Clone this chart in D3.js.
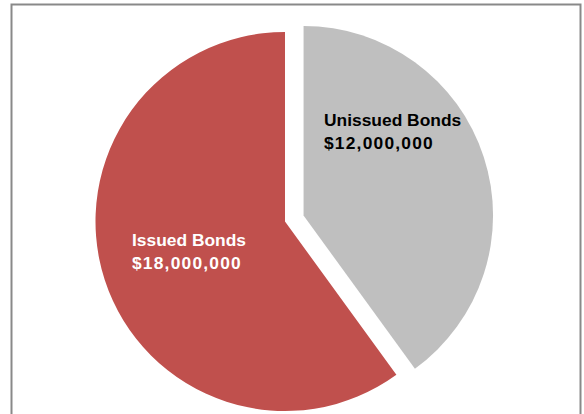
<!DOCTYPE html>
<html>
<head>
<meta charset="utf-8">
<script src="https://cdn.jsdelivr.net/npm/d3@7"></script>
<style>
  html, body { margin: 0; padding: 0; background: #ffffff; }
  svg { display: block; }
</style>
</head>
<body>
<svg id="chart" width="584" height="414"></svg>
<script>
const categories = ["Unissued Bonds", "Issued Bonds"];
const values = [12000000, 18000000];
const valueLabels = ["$12,000,000", "$18,000,000"];
const colors = ["#BFBFBF", "#C0504D"];

const svg = d3.select("#chart");
const W = 584, H = 414;

svg.append("rect").attr("width", W).attr("height", H).attr("fill", "#ffffff");
// chart area border (bottom edge falls outside the picture)
svg.append("rect")
  .attr("x", 11.5).attr("y", 4.5)
  .attr("width", 569).attr("height", 430)
  .attr("fill", "#ffffff")
  .attr("stroke", "#898989").attr("stroke-width", 2);

const cx = 285, cy = 221.5, R = 189.5;
const explode = [19.5, 0];

const pie = d3.pie().sort(null).value(d => d)(values);
const arc = d3.arc().innerRadius(0).outerRadius(R);

const g = svg.append("g").attr("transform", `translate(${cx},${cy})`);

const slices = g.selectAll("g.slice").data(pie).join("g")
  .attr("class", "slice")
  .attr("transform", (d, i) => {
    const mid = (d.startAngle + d.endAngle) / 2;
    const dx = explode[i] * Math.sin(mid), dy = -explode[i] * Math.cos(mid);
    return `translate(${dx},${dy})`;
  });

slices.append("path")
  .attr("d", arc)
  .attr("fill", (d, i) => colors[i]);

// labels (placed as in the reference, relative to pie centre)
const labelPos = [
  { x: 39, y: -96, fill: "#000000" },
  { x: -153, y: 24, fill: "#ffffff" }
];

const font = "'Liberation Sans', Arial, sans-serif";
categories.forEach((c, i) => {
  const t = g.append("text")
    .attr("x", labelPos[i].x).attr("y", labelPos[i].y)
    .attr("font-family", font)
    .attr("font-weight", "bold")
    .attr("font-size", 17.4)
    .attr("fill", labelPos[i].fill);
  t.append("tspan").attr("x", labelPos[i].x).attr("dy", 0).text(c);
  t.append("tspan").attr("x", labelPos[i].x).attr("dy", 23)
    .attr("letter-spacing", 1.2).text(valueLabels[i]);
});
</script>
</body>
</html>
